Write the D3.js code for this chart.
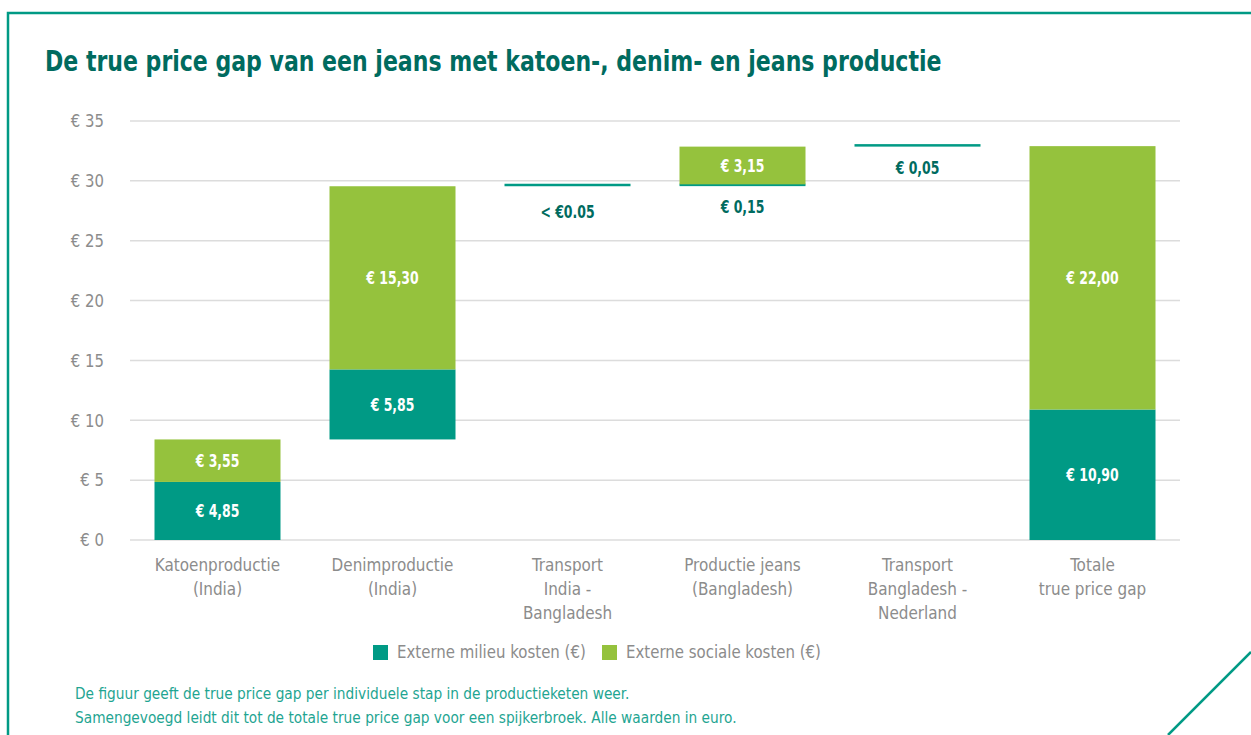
<!DOCTYPE html>
<html><head><meta charset="utf-8">
<script src="https://cdn.jsdelivr.net/npm/d3@7"></script>
<style>
body{margin:0;background:#fff;}
svg text{font-family:"Liberation Sans Narrow","DejaVu Sans Condensed","Roboto Condensed","Arial Narrow",sans-serif;}
</style></head>
<body><svg id="c" width="1251" height="735"></svg>
<script>
const categories = [["Katoenproductie","(India)"],["Denimproductie","(India)"],["Transport","India -","Bangladesh"],["Productie jeans","(Bangladesh)"],["Transport","Bangladesh -","Nederland"],["Totale","true price gap"]];
const milieu = [4.85, 5.85, 0.01, 0.15, 0.05, 10.90];
const sociaal = [3.55, 15.30, 0, 3.15, 0, 22.00];
const milieuLabels = ["€ 4,85","€ 5,85","< €0.05","€ 0,15","€ 0,05","€ 10,90"];
const sociaalLabels = ["€ 3,55","€ 15,30","","€ 3,15","","€ 22,00"];
const isTotal = [false,false,false,false,false,true];
const yTicks = [0,5,10,15,20,25,30,35];
const legendLabels = ["Externe milieu kosten (€)","Externe sociale kosten (€)"];
const titleText = "De true price gap van een jeans met katoen-, denim- en jeans productie";
const footer = ["De figuur geeft de true price gap per individuele stap in de productieketen weer.","Samengevoegd leidt dit tot de totale true price gap voor een spijkerbroek. Alle waarden in euro."];

const C_M = "#009a85", C_S = "#95c23d", C_T = "#006b5f", C_G = "#8c8c8c";
const svg = d3.select("#c");

// helper: text with horizontal compression
function txt(parent, x, y, str, o){
  const t = parent.append("text").attr("transform",`translate(${x},${y}) scale(${o.sx||1},1)`)
    .attr("fill",o.fill).attr("font-size",o.size).attr("text-anchor",o.anchor||"start");
  if(o.bold) t.attr("font-weight","bold");
  if(o.dy) t.attr("dy",o.dy);
  if(Array.isArray(str)) str.forEach((l,k)=>t.append("tspan").attr("x",0).attr("dy",k?o.lh:0).text(l));
  else t.text(str);
  return t;
}

// frame
svg.append("path").attr("d","M8,735 L8,13 L1251,13").attr("fill","none").attr("stroke",C_M).attr("stroke-width",2.5);
svg.append("line").attr("x1",1251).attr("y1",652).attr("x2",1168).attr("y2",735).attr("stroke",C_M).attr("stroke-width",2.5);

txt(svg,45,71,titleText,{fill:C_T,size:29,bold:true,sx:0.845});

const x = d3.scaleBand().domain(d3.range(categories.length)).range([130,1180]).paddingInner(0.28).paddingOuter(0.14);
const y = d3.scaleLinear().domain([0,35]).range([540,121]);

// grid
svg.append("g").selectAll("line").data(yTicks).join("line")
  .attr("x1",130).attr("x2",1180).attr("y1",d=>y(d)).attr("y2",d=>y(d))
  .attr("stroke","#dcdcdc").attr("stroke-width",1.5);
const ag = svg.append("g");
yTicks.forEach(d=>txt(ag,104,y(d),"€ "+d,{fill:C_G,size:18,anchor:"end",dy:"0.35em",sx:0.92}));

// waterfall segments
let cum = 0;
const segs = [];
categories.forEach((c,i)=>{
  const base = isTotal[i] ? 0 : cum;
  segs.push({i, y0:base, y1:base+milieu[i], color:C_M, label:milieuLabels[i], v:milieu[i]});
  segs.push({i, y0:base+milieu[i], y1:base+milieu[i]+sociaal[i], color:C_S, label:sociaalLabels[i], v:sociaal[i]});
  if(!isTotal[i]) cum = base+milieu[i]+sociaal[i];
});
const minH = 2.5;
const g = svg.append("g");
segs.filter(s=>s.v>0).forEach(s=>{
  const h = Math.max(minH, y(s.y0)-y(s.y1));
  g.append("rect").attr("x",x(s.i)).attr("width",x.bandwidth())
    .attr("y", y(s.y0)-h).attr("height",h).attr("fill",s.color);
});
segs.filter(s=>s.v>0 && s.label).forEach(s=>{
  const small = (y(s.y0)-y(s.y1)) < 20;
  const tiny = s.v < 0.04;
  txt(g, x(s.i)+x.bandwidth()/2, small ? y(s.y0)+(tiny?25:21) : (y(s.y0)+y(s.y1))/2, s.label,
    {fill: small ? C_T : "#fff", size:18, bold:true, anchor:"middle", dy:"0.35em", sx:0.77});
});

// category labels
categories.forEach((c,i)=>txt(svg, x(i)+x.bandwidth()/2, 571, c, {fill:C_G,size:18,anchor:"middle",lh:24,sx:0.94}));

// legend
const lg = [[373,C_M],[602,C_S]];
lg.forEach(([lx,col],k)=>{
  svg.append("rect").attr("x",lx).attr("y",645).attr("width",15).attr("height",15).attr("fill",col);
  txt(svg, lx+24, 652, legendLabels[k], {fill:C_G,size:18,dy:"0.35em",sx:0.925});
});

footer.forEach((l,k)=>txt(svg,75,699+k*24,l,{fill:"#1fa592",size:15.5,sx:0.985}));
</script></body></html>
